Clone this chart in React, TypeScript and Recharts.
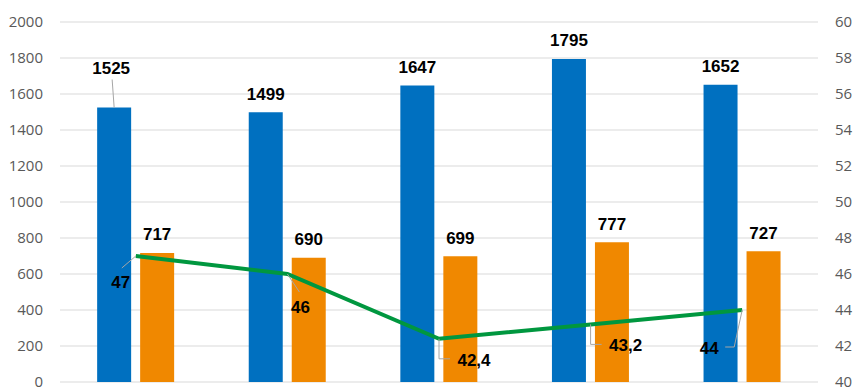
import React from "react";
import { ComposedChart, Bar, Line, XAxis, YAxis, CartesianGrid, LabelList } from "recharts";

const categories = ["1", "2", "3", "4", "5"];
const blueValues = [1525, 1499, 1647, 1795, 1652];
const orangeValues = [717, 690, 699, 777, 727];
const greenValues = [47, 46, 42.4, 43.2, 44];
const greenLabels = ["47", "46", "42,4", "43,2", "44"];
const leftTicks = [0, 200, 400, 600, 800, 1000, 1200, 1400, 1600, 1800, 2000];
const rightTicks = [40, 42, 44, 46, 48, 50, 52, 54, 56, 58, 60];

const data = categories.map((c, i) => ({
  name: c,
  blue: blueValues[i],
  orange: orangeValues[i],
  green: greenValues[i],
}));

const BLUE = "#0070C0";
const ORANGE = "#F08800";
const GREEN = "#00973F";
const LEADER = "#A6A6A6";
const labelFont = { fontFamily: "'Liberation Sans', Arial, sans-serif", fontWeight: 700, fontSize: 17, fill: "#000" };

const BarLabel = (props: any) => {
  const { x, y, width, value, index, leaderFirst } = props;
  const cx = x + width / 2;
  if (leaderFirst && index === 0) {
    const ty = y - 34;
    return (
      <g>
        <line x1={cx - 2} y1={y - 28} x2={cx} y2={y} stroke={LEADER} strokeWidth={1} />
        <text x={cx - 3} y={ty} textAnchor="middle" style={labelFont}>{value}</text>
      </g>
    );
  }
  return (
    <text x={cx} y={y - 12.5} textAnchor="middle" style={labelFont}>{value}</text>
  );
};

// label placement relative to the line point: text center offset and leader path
const lineLabelOffsets = [
  { dx: -15, dy: 32, path: [[-14, 12]] },
  { dx: 13, dy: 39, path: [[12, 18]] },
  { dx: 35, dy: 27, path: [[0, 20], [11, 20]] },
  { dx: 35, dy: 27, path: [[0, 20], [11, 20]] },
  { dx: -33, dy: 44, path: [[-8, 37], [-17, 37]] },
];

const LineLabel = (props: any) => {
  const { x, y, index } = props;
  const o = lineLabelOffsets[index];
  const pts = [[x, y], ...o.path.map((p) => [x + p[0], y + p[1]])];
  const d = pts.map((p, i) => (i === 0 ? "M" : "L") + p[0] + "," + p[1]).join(" ");
  return (
    <g>
      <path d={d} stroke={LEADER} strokeWidth={1} fill="none" />
      <text x={x + o.dx} y={y + o.dy} textAnchor="middle" style={labelFont}>{greenLabels[index]}</text>
    </g>
  );
};

const tickStyle = { fontFamily: "'Open Sans', sans-serif", fontSize: 15, fill: "#595959" };

export default function App() {
  return (
    <div style={{ position: "absolute", left: 0, top: 0, width: 859, height: 387, background: "#fff" }}>
      <ComposedChart
        width={859}
        height={387}
        data={data}
        margin={{ top: 22, right: 0, bottom: 5, left: 0 }}
        barCategoryGap="24.5%"
        barGap={9}
      >
        <CartesianGrid yAxisId="left" vertical={false} stroke="#D9D9D9" strokeWidth={1.2} />
        <XAxis dataKey="name" hide />
        <YAxis
          yAxisId="left"
          orientation="left"
          width={60}
          domain={[0, 2000]}
          ticks={leftTicks}
          axisLine={false}
          tickLine={false}
          tickSize={0}
          tickMargin={17}
          tick={tickStyle}
          interval={0}
        />
        <YAxis
          yAxisId="right"
          orientation="right"
          width={41}
          domain={[40, 60]}
          ticks={rightTicks}
          axisLine={false}
          tickLine={false}
          tickSize={0}
          tickMargin={17}
          tick={{ ...tickStyle, textAnchor: "start" }}
          interval={0}
        />
        <Bar yAxisId="left" dataKey="blue" fill={BLUE} isAnimationActive={false}>
          <LabelList dataKey="blue" content={(p: any) => <BarLabel {...p} leaderFirst />} />
        </Bar>
        <Bar yAxisId="left" dataKey="orange" fill={ORANGE} isAnimationActive={false}>
          <LabelList dataKey="orange" content={(p: any) => <BarLabel {...p} />} />
        </Bar>
        <Line
          yAxisId="right"
          dataKey="green"
          type="linear"
          stroke={GREEN}
          strokeWidth={4}
          dot={false}
          activeDot={false}
          isAnimationActive={false}
        >
          <LabelList dataKey="green" content={(p: any) => <LineLabel {...p} />} />
        </Line>
      </ComposedChart>
    </div>
  );
}
